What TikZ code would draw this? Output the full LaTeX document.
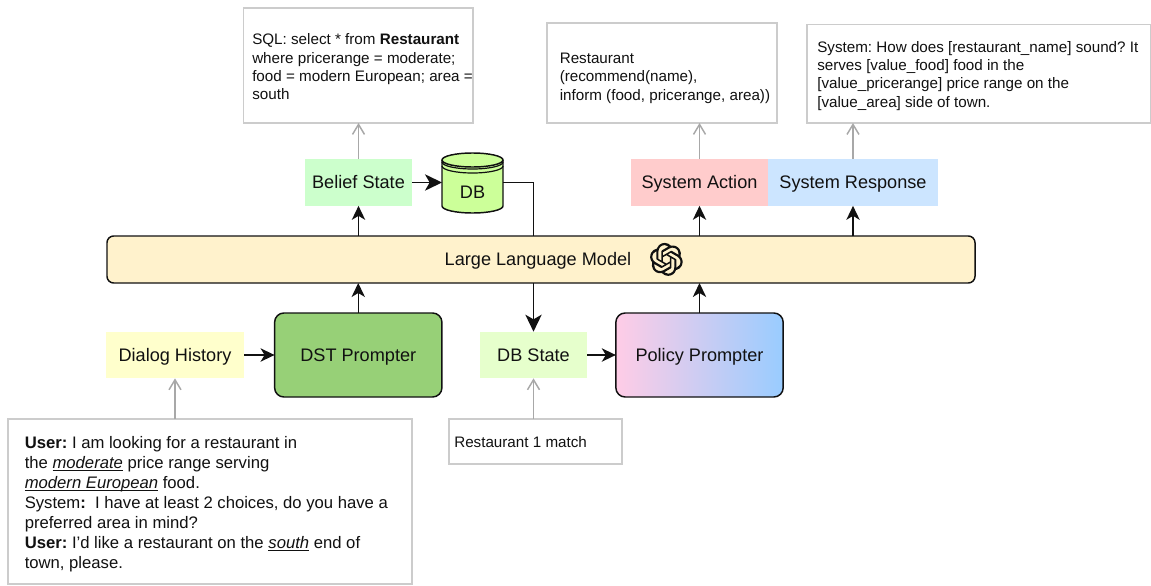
\documentclass[tikz,border=0pt]{standalone}
\usepackage{fontspec}
\setmainfont{Liberation Sans}
\usetikzlibrary{arrows.meta,calc,shadings,svg.path}
\definecolor{ink}{HTML}{111111}
\definecolor{edgegray}{HTML}{A8A8A8}
\definecolor{boxgray}{HTML}{CCCCCC}
\definecolor{llmfill}{HTML}{FFF2CC}
\definecolor{pinkend}{HTML}{FFCCE6}
\definecolor{blueend}{HTML}{99CCFF}
\frenchspacing
\tikzset{
  x=0.75pt,y=-0.75pt,
  lab/.style={font=\fontsize{13.6pt}{16pt}\selectfont,text=ink,inner sep=0pt,outer sep=0pt,anchor=center,text height=11pt,text depth=1.26pt},
  band/.style={lab,minimum height=35pt},
  prompter/.style={lab,draw=ink,line width=1.1pt,rounded corners=7pt,minimum height=63pt,minimum width=125.5pt},
  notebox/.style={draw=boxgray,line width=1.1pt,fill=white,inner sep=0pt,outer sep=0pt,anchor=north west},
  notetext/.style={font=\fontsize{11.4pt}{13.7pt}\selectfont,text=ink,inner sep=0pt,align=left,anchor=north west},
  flow/.style={draw=ink,line width=1.1pt,-{Stealth[length=10.5pt,width=10pt,inset=3pt]}},
  bigflow/.style={draw=ink,line width=1.1pt,-{Stealth[length=12.75pt,width=12.25pt,inset=3.5pt]}},
  plainflow/.style={draw=ink,line width=1.1pt},
  ref/.style={draw=edgegray,line width=1.1pt,-{Straight Barb[length=7.5pt,width=9pt]}},
}
\newcommand{\emword}[1]{\underline{\smash{\textit{#1}}}}
\begin{document}
\begin{tikzpicture}
\useasboundingbox (0,0) rectangle (1151,585);
% note boxes
\node[notebox,minimum width=172.1pt,minimum height=86.25pt] (sqlbox) at (243.5,8) {};
\node[notebox,minimum width=172.5pt,minimum height=75pt] (actbox) at (547,23) {};
\node[notebox,minimum width=258pt,minimum height=73.9pt] (respbox) at (807,24.5) {};
\node[notebox,minimum width=303pt,minimum height=123.75pt] (userbox) at (8,419) {};
\node[notebox,minimum width=129.75pt,minimum height=33.75pt] (matchbox) at (449,419) {};
\node[notetext] (sqltext) at (252,33.5) {SQL: select * from \textbf{Restaurant}\\where pricerange = moderate;\\food = modern European; area =\\south};
\node[notetext] (acttext) at (559.5,53) {Restaurant\\(recommend(name),\\inform (food, pricerange, area))};
\node[notetext] (resptext) at (817,41) {System: How does {[}restaurant\_name{]} sound? It\\serves {[}value\_food{]} food in the\\{[}value\_pricerange{]} price range on the\\{[}value\_area{]} side of town.};
\node[notetext,font=\fontsize{12.5pt}{15pt}\selectfont] (usertext) at (24.5,436) {\textbf{User:} I am looking for a restaurant in\\the \emword{moderate} price range serving\\\emword{modern European} food.\\System\textbf{:}\ \ I have at least 2 choices, do you have a\\preferred area in mind?\\\textbf{User:} I’d like a restaurant on the \emword{south} end of\\town, please.};
\node[notetext,font=\fontsize{11.4pt}{13pt}\selectfont,anchor=west] (matchtext) at (454,442) {Restaurant 1 match};
% bands
\node[band,fill=green!20,minimum width=80pt] (belief) at (358.5,182.5) {Belief State};
\node[band,fill=red!20,minimum width=102.75pt] (action) at (699.5,182.5) {System Action};
\node[band,fill={rgb,255:red,204;green,229;blue,255},minimum width=127.5pt] (response) at (853,182.5) {System Response};
\node[band,fill={rgb,255:red,255;green,255;blue,204},minimum width=103.5pt] (history) at (175,355) {Dialog History};
\node[band,fill={rgb,255:red,230;green,255;blue,204},minimum width=80.25pt] (dbstate) at (533.5,355) {DB State};
\node[prompter,fill={rgb,255:red,151;green,208;blue,119}] (dst) at (358.25,355) {DST Prompter};
\node[prompter,left color=pinkend,right color=blueend] (policy) at (699.5,355) {Policy Prompter};
% database
\node[inner sep=0pt,outer sep=0pt,minimum width=45.75pt,minimum height=45.75pt] (db) at (472.5,182.5) {};
\fill[fill={rgb,255:red,204;green,255;blue,153}] (442,160) -- (442,206) arc[start angle=180,end angle=0,x radius=30.5,y radius=7] -- (503,160) arc[start angle=0,end angle=-180,x radius=30.5,y radius=7] -- cycle;
\draw[ink,line width=1.1pt] (442,160) -- (442,206) arc[start angle=180,end angle=0,x radius=30.5,y radius=7] -- (503,160);
\draw[ink,line width=1.1pt] (472.5,160) ellipse[x radius=30.5,y radius=7];
\draw[ink,line width=0.9pt] (442,162) arc[start angle=180,end angle=0,x radius=30.5,y radius=7];
\draw[ink,line width=0.9pt] (442,166) arc[start angle=180,end angle=0,x radius=30.5,y radius=7];
\node[lab] (dblabel) at (472.5,192) {DB};
% model
\node[lab,draw=ink,line width=1.1pt,fill=llmfill,rounded corners=5pt,minimum width=651pt,minimum height=35.25pt] (llm) at (541,259.5) {};
\node[lab] (llmlabel) at (538,259.5) {Large Language Model};
% logo
\begin{scope}[shift={(658,251)},scale=1.03,yscale=-1,xshift=-5.9pt,yshift=-5.9pt]
\fill[ink,even odd rule] svg {M22.2819 9.8211 a5.9847 5.9847 0 0 0 -0.5157 -4.9108 a6.0462 6.0462 0 0 0 -6.5098 -2.9 A6.0651 6.0651 0 0 0 4.9807 4.1818 a5.9847 5.9847 0 0 0 -3.9977 2.9 a6.0462 6.0462 0 0 0 0.7427 7.0966 a5.98 5.98 0 0 0 0.511 4.9107 a6.051 6.051 0 0 0 6.5146 2.9001 A5.9847 5.9847 0 0 0 13.2599 24 a6.0557 6.0557 0 0 0 5.7718 -4.2058 a5.9894 5.9894 0 0 0 3.9977 -2.9001 a6.0557 6.0557 0 0 0 -0.7475 -7.0729 z M13.2599 22.4292 a4.4755 4.4755 0 0 1 -2.8764 -1.0408 l0.1419 -0.0804 l4.7783 -2.7582 a0.7948 0.7948 0 0 0 0.3927 -0.6813 v-6.7369 l2.02 1.1686 a0.071 0.071 0 0 1 0.038 0.052 v5.5826 a4.504 4.504 0 0 1 -4.4945 4.4944 z M3.5992 18.3038 a4.4708 4.4708 0 0 1 -0.5346 -3.0137 l0.142 0.0852 l4.783 2.7582 a0.7712 0.7712 0 0 0 0.7806 0 l5.8428 -3.3685 v2.3324 a0.0804 0.0804 0 0 1 -0.0332 0.0615 L9.74 19.9502 a4.4992 4.4992 0 0 1 -6.1408 -1.6464 z M2.3408 7.8956 a4.485 4.485 0 0 1 2.3655 -1.9728 V11.6 a0.7664 0.7664 0 0 0 0.3879 0.6765 l5.8144 3.3543 l-2.0201 1.1685 a0.0757 0.0757 0 0 1 -0.071 0 l-4.8303 -2.7865 A4.504 4.504 0 0 1 2.3408 7.872 z M18.9371 11.7514 L13.1038 8.364 L15.1192 7.2 a0.0757 0.0757 0 0 1 0.071 0 l4.8303 2.7913 a4.4944 4.4944 0 0 1 -0.6765 8.1042 v-5.6772 a0.79 0.79 0 0 0 -0.407 -0.667 z M20.9478 8.7283 l-0.142 -0.0852 l-4.7735 -2.7818 a0.7759 0.7759 0 0 0 -0.7854 0 L9.409 9.2297 V6.8974 a0.0662 0.0662 0 0 1 0.0284 -0.0615 l4.8303 -2.7866 a4.4992 4.4992 0 0 1 6.6802 4.66 z M8.3065 12.863 l-2.02 -1.1638 a0.0804 0.0804 0 0 1 -0.038 -0.0567 V6.0742 a4.4992 4.4992 0 0 1 7.3757 -3.4537 l-0.142 0.0805 L8.704 5.459 a0.7948 0.7948 0 0 0 -0.3927 0.6813 z M9.4041 10.4976 l2.602 -1.4998 l2.6069 1.4998 v2.9994 l-2.5974 1.4997 l-2.6067 -1.4997 Z};
\end{scope}
% connectors
\draw[bigflow] (belief) -- (db.west);
\draw[plainflow] (db.east) -| (dbstate.north |- llm.north);
\draw[bigflow] (dbstate.north |- llm.south) -- (dbstate.north);
\draw[flow] (belief.south |- llm.north) -- (belief.south);
\draw[flow] (action.south |- llm.north) -- (action.south);
\draw[flow] (response.south |- llm.north) -- (response.south);
\draw[flow] (dst.north) -- (dst.north |- llm.south);
\draw[flow] (policy.north) -- (policy.north |- llm.south);
\draw[flow] (history) -- (dst);
\draw[flow] (dbstate) -- (policy);
\draw[ref] (belief.north) -- (belief.north |- sqlbox.south);
\draw[ref] (action.north) -- (action.north |- actbox.south);
\draw[ref] (response.north) -- (response.north |- respbox.south);
\draw[ref] (history.south |- userbox.north) -- (history.south);
\draw[ref] (dbstate.south |- matchbox.north) -- (dbstate.south);
\end{tikzpicture}
\end{document}
